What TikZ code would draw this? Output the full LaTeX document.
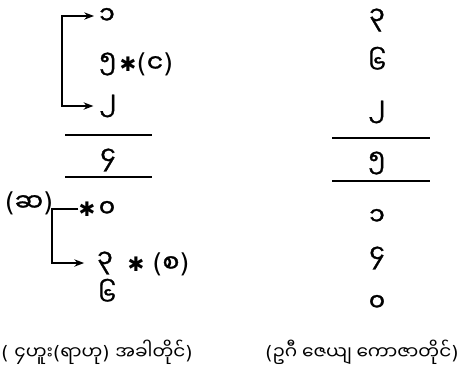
\documentclass[tikz,border=0pt]{standalone}
\usepackage{fontspec}
\setmainfont{DejaVu Sans}
\newfontfamily\mmfont[Script=Myanmar]{Noto Sans Myanmar UI}
\newfontfamily\mmheavy[Script=Myanmar, FakeBold=1.2]{Noto Sans Myanmar UI}
\usepackage{tikz}
\usetikzlibrary{arrows.meta, positioning}
\newcommand{\mm}[1]{{\mmfont #1}}
\newcommand{\mmbig}[1]{{\mmheavy\fontsize{25}{25}\selectfont #1}}
\newcommand{\hvast}{\char"2731}

\begin{document}
\begin{tikzpicture}[x=1pt, y=-1pt, every node/.style={inner sep=0pt},
  digit/.style={font=\mmheavy\fontsize{25}{25}\selectfont},
  starmark/.style={font=\fontsize{20}{20}\selectfont},
  paren/.style={font=\fontsize{26}{26}\selectfont},
  caption/.style={font=\fontsize{18.5}{18.5}\selectfont},
  divline/.style={line width=1.7pt},
  link/.style={line width=1.5pt}]
  \useasboundingbox (0,0) rectangle (468,376);
  % --- left column -------------------------------------------------
  \node[digit] (one)   at (107,16)  {၁};
  \node[digit] (five)  at (108,64)  {၅};
  \node[starmark] (st1) at (128,64) {\hvast};
  \node[paren] (ng)    at (155,64)  {(\mmbig{င})};
  \node[digit] (two)   at (108,106) {၂};
  \draw[divline] (65,135) -- (152,135);
  \node[digit] (four)  at (108,160) {၄};
  \draw[divline] (65,177) -- (152,177);
  \node[paren] (sa)    at (29,203)  {(\mmbig{ဆ})};
  \node[starmark] (st3) at (87,209) {\hvast};
  \node[digit] (zero)  at (107,209) {၀};
  \node[digit] (three) at (105,263) {၃};
  \node[starmark] (st2) at (136,264) {\hvast};
  \node[paren] (ca)    at (171,264) {(\mmbig{စ})};
  \node[digit] (six)   at (107,292) {၆};
  % brackets
  \coordinate (kinkA) at (62,15);
  \draw[link, {Stealth}-{Stealth}, shorten <=5pt, shorten >=6pt]
    (one.west) -| (kinkA) |- (two.west);
  \coordinate (kinkB) at (52,209);
  \draw[link, -{Stealth}, shorten >=13pt] (st3.west) -- (kinkB) |- (three.west);
  % --- right column ------------------------------------------------
  \node[digit] (rthree) at (377,20)  {၃};
  \node[digit] (rsix)   at (377,60)  {၆};
  \node[digit] (rtwo)   at (377,112) {၂};
  \draw[divline] (332,138) -- (430,138);
  \node[digit] (rfive)  at (377,163) {၅};
  \draw[divline] (332,181) -- (430,181);
  \node[digit] (rone)   at (377,217) {၁};
  \node[digit] (rfour)  at (377,258) {၄};
  \node[digit] (rzero)  at (377,303) {၀};
  % --- captions ----------------------------------------------------
  \node[caption] (capl) at (97,352)  {( \mm{၄ဟူး}(\mm{ရာဟု}) \mm{အခါတိုင်})};
  \node[caption] (capr) at (362,352) {(\mm{ဥဂီ ဇေယျ ကောဇာတိုင်})};
\end{tikzpicture}
\end{document}
